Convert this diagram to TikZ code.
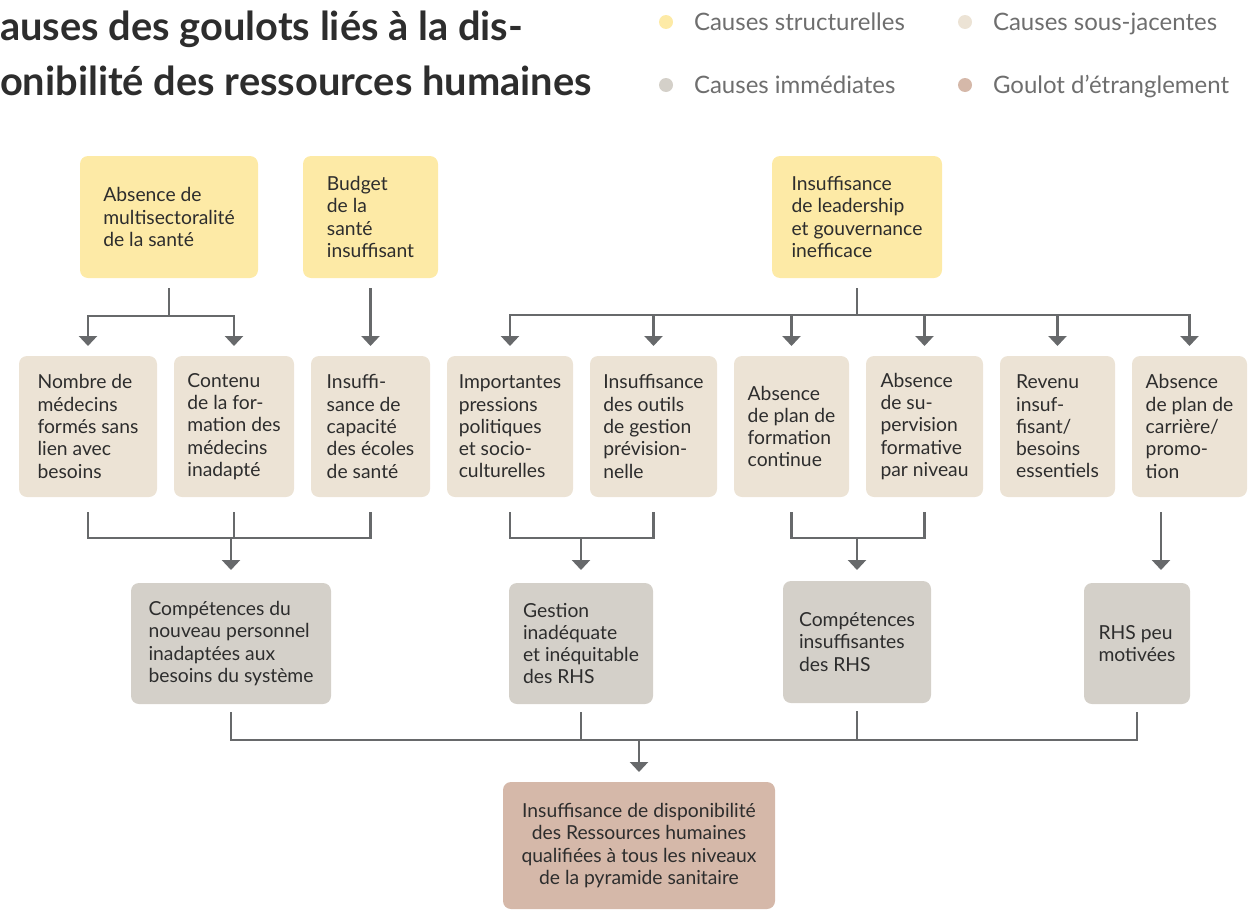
\documentclass[tikz,border=0pt]{standalone}
\usepackage{fontspec}
\setmainfont{Lato}
\usetikzlibrary{arrows.meta,positioning,calc}
\definecolor{rhsyellow}{HTML}{FDEAA6}
\definecolor{rhsbeige}{HTML}{ECE3D5}
\definecolor{rhsgrey}{HTML}{D4D0C9}
\definecolor{rhsbrown}{HTML}{D5B8A9}
\definecolor{rhsline}{HTML}{67696B}
\definecolor{rhstext}{HTML}{2D2D2D}
\definecolor{rhslegend}{HTML}{6E6E6E}
\newcommand{\boxfont}{\fontsize{19.3}{22.3}\selectfont}

\begin{document}
\begin{tikzpicture}[x=1pt,y=-1pt, node distance=17pt, every node/.style={inner sep=0pt,outer sep=0pt}]
\tikzset{cause/.style={rounded corners=8pt,align=left,font=\boxfont,text=rhstext}, struct/.style={cause,fill=rhsyellow,minimum height=122pt}, sub/.style={cause,fill=rhsbeige,minimum height=141pt}, imm/.style={cause,fill=rhsgrey,minimum height=121pt}, goulot/.style={cause,align=center,fill=rhsbrown,minimum height=127pt}, bus/.style={draw=rhsline,line width=2.6pt}, arr/.style={bus,-{Triangle[width=18pt,length=10pt]}}, dot/.style={circle,minimum size=14pt}, legend/.style={font=\fontsize{24}{24}\selectfont,text=rhslegend,anchor=base west}, title/.style={font=\fontsize{39.8}{40}\selectfont\bfseries,text=rhstext}}
\useasboundingbox (0,0) rectangle (1258,910);
% title and legend
\node[title,anchor=base west] (titre1) at (0,40) {auses des goulots liés à la dis-};
\node[title,anchor=base west] (titre2) at (0,95) {onibilité des ressources humaines};
\node[dot,fill=rhsyellow] (kstruct) at (666,22) {};
\node[legend] (lstruct) at ($(kstruct.east)+(21,8.5)$) {Causes structurelles};
\node[dot,fill=rhsbeige] (ksub) at (965,22) {};
\node[legend] (lsub) at ($(ksub.east)+(21,8.5)$) {Causes sous-jacentes};
\node[dot,fill=rhsgrey] (kimm) at (666,85) {};
\node[legend] (limm) at ($(kimm.east)+(21,8.5)$) {Causes immédiates};
\node[dot,fill=rhsbrown] (kgoul) at (965,85) {};
\node[legend] (lgoul) at ($(kgoul.east)+(21,8.5)$) {Goulot d’étranglement};
% structural causes
\node[struct,anchor=north west,minimum width=178pt] (multi) at (80,156) {Absence de\\multisectoralité\\de la santé};
\node[struct,anchor=north west,minimum width=135pt] (budget) at (303,156) {Budget\\de la\\santé\\insuffisant};
\node[struct,anchor=north west,minimum width=170pt] (leader) at (772,156) {Insuffisance\\de leadership\\et gouvernance\\inefficace};
% underlying causes
\node[sub,anchor=north west,minimum width=138pt] (nombre) at (19,356) {Nombre de\\médecins\\formés sans\\lien avec\\besoins};
\node[sub,right=of nombre,minimum width=120pt] (contenu) {Contenu\\de la for-\\mation des\\médecins\\inadapté};
\node[sub,right=of contenu,minimum width=119pt] (ecoles) {Insuffi-\\sance de\\capacité\\des écoles\\de santé};
\node[sub,right=of ecoles,minimum width=126pt] (pressions) {Importantes\\pressions\\politiques\\et socio-\\culturelles};
\node[sub,right=of pressions,minimum width=127pt] (outils) {Insuffisance\\des outils\\de gestion\\prévision-\\nelle};
\node[sub,right=of outils,minimum width=115pt] (formcont) {Absence\\de plan de\\formation\\continue};
\node[sub,right=of formcont,minimum width=117pt] (superv) {Absence\\de su-\\pervision\\formative\\par niveau};
\node[sub,right=of superv,minimum width=115pt] (revenu) {Revenu\\insuf-\\fisant/\\besoins\\essentiels};
\node[sub,right=of revenu,minimum width=115pt] (carriere) {Absence\\de plan de\\carrière/\\promo-\\tion};
% immediate causes
\node[imm,anchor=north west,minimum width=200pt] (nouveau) at (131,583) {Compétences du\\nouveau personnel\\inadaptées aux\\besoins du système};
\node[imm,anchor=north west,minimum width=144pt] (gestion) at (509,583) {Gestion\\inadéquate\\et inéquitable\\des RHS};
\node[imm,anchor=north west,minimum width=148pt,minimum height=122pt] (compet) at (783,581) {Compétences\\insuffisantes\\des RHS};
\node[imm,anchor=north west,minimum width=106pt] (motiv) at (1084,583) {RHS peu\\motivées};
% bottleneck
\node[goulot,anchor=north west,minimum width=272pt] (dispo) at (503,782) {Insuffisance de disponibilité\\des Ressources humaines\\qualifiées à tous les niveaux\\de la pyramide sanitaire};
% connectors
\coordinate (jm) at ($(multi.south)+(0,38)$);
\draw[bus,shorten <=10pt] (multi.south) -- (jm);
\draw[arr,shorten >=10pt] (jm) -| (nombre.north);
\draw[arr,shorten >=10pt] (jm) -| (contenu.north);
\draw[arr,shorten <=10pt,shorten >=10pt] (budget.south) -- (ecoles.north);
\coordinate (jl) at ($(leader.south)+(0,37)$);
\draw[bus,shorten <=10pt] (leader.south) -- (jl);
\foreach \t in {pressions,outils,formcont,superv,revenu,carriere}
  \draw[arr,shorten >=10pt] (jl) -| (\t.north);
\coordinate (jn) at ($(contenu.south)+(0,41)$);
\draw[bus,shorten <=15pt,shorten >=15pt] (nombre.south) -- (nombre.south |- jn) -| (ecoles.south);
\draw[bus,shorten <=15pt] (contenu.south) -- (jn);
\draw[arr,shorten >=13pt] (nouveau.north |- jn) -- (nouveau.north);
\coordinate (jg) at ($(pressions.south)+(0,41)$);
\draw[bus,shorten <=15pt,shorten >=15pt] (pressions.south) -- (jg) -| (outils.south);
\draw[arr,shorten >=13pt] (gestion.north |- jg) -- (gestion.north);
\coordinate (jf) at ($(formcont.south)+(0,41)$);
\draw[bus,shorten <=15pt,shorten >=15pt] (formcont.south) -- (jf) -| (superv.south);
\draw[arr,shorten >=11pt] (compet.north |- jf) -- (compet.north);
\coordinate (jc) at ($(carriere.south west)!.5!(motiv.north east)$);
\draw[arr,shorten <=15pt,shorten >=13pt] (jc |- carriere.south) -- (jc |- motiv.north);
\coordinate (jb) at ($(dispo.north)+(0,-42)$);
\draw[bus,line width=2.3pt,shorten <=8pt,shorten >=8pt] (nouveau.south) -- (nouveau.south |- jb) -| (motiv.south);
\draw[bus,line width=2.3pt,shorten <=8pt] (gestion.south) -- (gestion.south |- jb);
\draw[bus,line width=2.3pt,shorten <=8pt] (compet.south) -- (compet.south |- jb);
\draw[arr,shorten >=10pt] (jb) -- (dispo.north);
\end{tikzpicture}
\end{document}
